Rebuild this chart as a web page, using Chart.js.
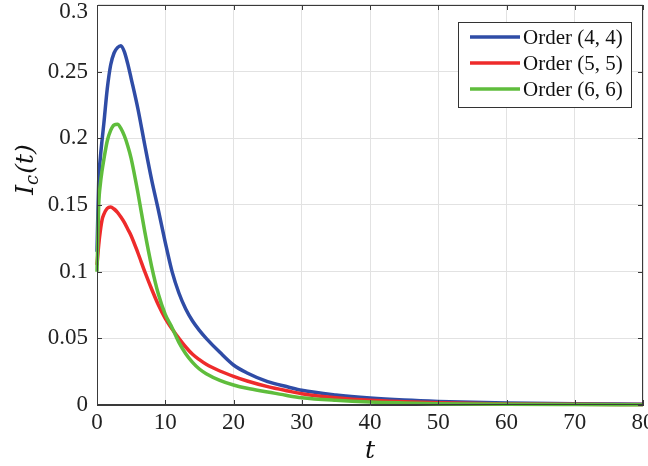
<!DOCTYPE html>
<html>
<head>
<meta charset="utf-8">
<title>I_c(t)</title>
<script src="https://cdn.jsdelivr.net/npm/chart.js@4/dist/chart.umd.min.js"></script>
<style>
  html, body { margin: 0; padding: 0; background: #fff; }
  #wrap { width: 648px; height: 466px; }
</style>
</head>
<body>
<div id="wrap"><canvas id="c" width="648" height="466"></canvas></div>
<script>
"use strict";

// time grid shared by the three curves
const T = [0, 0.25, 0.5, 0.75, 1, 1.5, 2, 2.5, 3, 3.5, 4, 4.5, 5, 6, 7, 8, 9, 10, 11, 12, 13, 14, 15, 16, 18, 20, 22, 25, 28, 30, 35, 40, 45, 50, 60, 70, 80];

const order44 = [0.115, 0.168, 0.186, 0.199, 0.211, 0.237, 0.255, 0.264, 0.268, 0.2695, 0.265, 0.256, 0.245, 0.222, 0.195, 0.169, 0.146, 0.122, 0.100, 0.084, 0.072, 0.063, 0.056, 0.050, 0.0395, 0.030, 0.024, 0.0175, 0.0135, 0.011, 0.0075, 0.0052, 0.0037, 0.0027, 0.0015, 0.0009, 0.0006];
const order55 = [0.105, 0.120, 0.131, 0.139, 0.143, 0.1475, 0.1485, 0.147, 0.1445, 0.141, 0.137, 0.132, 0.127, 0.114, 0.100, 0.087, 0.075, 0.065, 0.057, 0.050, 0.0435, 0.038, 0.034, 0.0305, 0.0255, 0.0215, 0.018, 0.0138, 0.0105, 0.0085, 0.0055, 0.0035, 0.0024, 0.0016, 0.0008, 0.0005, 0.0003];
const order66 = [0.100, 0.150, 0.166, 0.176, 0.184, 0.198, 0.206, 0.210, 0.2105, 0.2075, 0.202, 0.1945, 0.185, 0.159, 0.130, 0.104, 0.083, 0.068, 0.058, 0.047, 0.0385, 0.032, 0.027, 0.0235, 0.0185, 0.015, 0.0125, 0.0098, 0.007, 0.0055, 0.0035, 0.0022, 0.0015, 0.001, 0.0005, 0.0003, 0.0002];

const seriesLabels = ["Order (4, 4)", "Order (5, 5)", "Order (6, 6)"];
const seriesColors = ["#2f4ca6", "#ee2b2b", "#5fbd3c"];

const xTicks = [0, 10, 20, 30, 40, 50, 60, 70, 80];
const yTicks = ["0", "0.05", "0.1", "0.15", "0.2", "0.25", "0.3"];

const SERIF = "'Liberation Serif', 'Times New Roman', serif";
const AXIS = "#3a3a3a";

function pts(ys) {
  return T.map((t, i) => ({ x: t, y: ys[i] }));
}

// box, inward ticks, y label with subscript, legend
const decor = {
  id: "decor",
  afterDraw(chart) {
    const { ctx, chartArea: a } = chart;
    const xs = chart.scales.x;
    const ys = chart.scales.y;
    ctx.save();
    ctx.strokeStyle = AXIS;
    ctx.lineWidth = 1;
    ctx.strokeRect(a.left + 0.5, a.top + 0.5, a.right - a.left - 1, a.bottom - a.top - 1);
    ctx.beginPath();
    xs.ticks.forEach((tk) => {
      const px = Math.round(xs.getPixelForValue(tk.value)) + 0.5;
      ctx.moveTo(px, a.bottom); ctx.lineTo(px, a.bottom - 5);
      ctx.moveTo(px, a.top); ctx.lineTo(px, a.top + 5);
    });
    ys.ticks.forEach((tk) => {
      const py = Math.round(ys.getPixelForValue(tk.value)) + 0.5;
      ctx.moveTo(a.left, py); ctx.lineTo(a.left + 5, py);
      ctx.moveTo(a.right, py); ctx.lineTo(a.right - 5, py);
    });
    ctx.stroke();

    // y axis label  I_c(t)
    ctx.translate(24, 170);
    ctx.rotate(-Math.PI / 2);
    ctx.fillStyle = "#111";
    ctx.textBaseline = "alphabetic";
    ctx.font = "italic 25px 'DejaVu Serif', serif";
    const wI = ctx.measureText("I").width;
    ctx.font = "italic 18px 'DejaVu Serif', serif";
    const wc = ctx.measureText("c").width;
    ctx.font = "italic 25px 'DejaVu Serif', serif";
    const wt = ctx.measureText("(t)").width;
    let x0 = -(wI + wc + wt) / 2;
    ctx.fillText("I", x0, 9);
    ctx.font = "italic 18px 'DejaVu Serif', serif";
    ctx.fillText("c", x0 + wI, 14);
    ctx.font = "italic 25px 'DejaVu Serif', serif";
    ctx.fillText("(t)", x0 + wI + wc + 1, 9);
    ctx.restore();

    // legend
    ctx.save();
    const bx = 458, by = 22, bw = 173, bh = 85;
    ctx.fillStyle = "#fff";
    ctx.fillRect(bx, by, bw, bh);
    ctx.strokeStyle = "#333";
    ctx.lineWidth = 1;
    ctx.strokeRect(bx + 0.5, by + 0.5, bw, bh);
    ctx.font = "21px " + SERIF;
    ctx.textBaseline = "middle";
    ctx.fillStyle = "#111";
    seriesLabels.forEach((lab, i) => {
      const yy = by + 15 + i * 26;
      ctx.strokeStyle = seriesColors[i];
      ctx.lineWidth = 3.5;
      ctx.beginPath();
      ctx.moveTo(bx + 12, yy);
      ctx.lineTo(bx + 62, yy);
      ctx.stroke();
      ctx.fillText(lab, bx + 65, yy + 1);
    });
    ctx.restore();
  },
};

new Chart(document.getElementById("c"), {
  type: "line",
  data: {
    datasets: [order44, order55, order66].map((ys, i) => ({
      label: seriesLabels[i],
      data: pts(ys),
      borderColor: seriesColors[i],
      backgroundColor: seriesColors[i],
      borderWidth: 3.5,
      pointRadius: 0,
      cubicInterpolationMode: "monotone",
      fill: false,
      clip: false,
      order: 3 - i,
    })),
  },
  options: {
    responsive: false,
    animation: false,
    events: [],
    layout: { padding: { left: 0, right: 5, top: 5, bottom: 0 } },
    plugins: { legend: { display: false }, tooltip: { enabled: false } },
    scales: {
      x: {
        type: "linear",
        min: 0,
        max: 80,
        afterBuildTicks: (s) => { s.ticks = xTicks.map((v) => ({ value: v })); },
        afterFit: (s) => { s.height = 61; s.paddingLeft = 0; s.paddingRight = 0; },
        border: { display: true, color: AXIS, width: 1 },
        grid: { color: "#e2e2e2", lineWidth: 1, drawTicks: false },
        ticks: {
          color: "#222",
          font: { family: SERIF, size: 23 },
          padding: 4,
          maxRotation: 0,
          autoSkip: false,
        },
        title: {
          display: true,
          text: "t",
          color: "#111",
          font: { family: "'DejaVu Serif', serif", size: 25, style: "italic" },
          padding: { top: 0, bottom: 0 },
        },
      },
      y: {
        min: 0,
        max: 0.3,
        afterBuildTicks: (s) => { s.ticks = yTicks.map((_, i) => ({ value: i * 0.05 })); },
        afterFit: (s) => { s.width = 97; s.paddingTop = 0; s.paddingBottom = 0; },
        border: { display: true, color: AXIS, width: 1 },
        grid: { color: "#e2e2e2", lineWidth: 1, drawTicks: false },
        ticks: {
          color: "#222",
          // top label sits a little lower so it is not cut at the edge
          font: (c) => ({ family: SERIF, size: 23, lineHeight: c.index === yTicks.length - 1 ? 0.62 : 1.2 }),
          padding: 9,
          autoSkip: false,
          callback: (v, i) => (i === yTicks.length - 1 ? ["", yTicks[i]] : yTicks[i]),
        },
      },
    },
  },
  plugins: [decor],
});
</script>
</body>
</html>
